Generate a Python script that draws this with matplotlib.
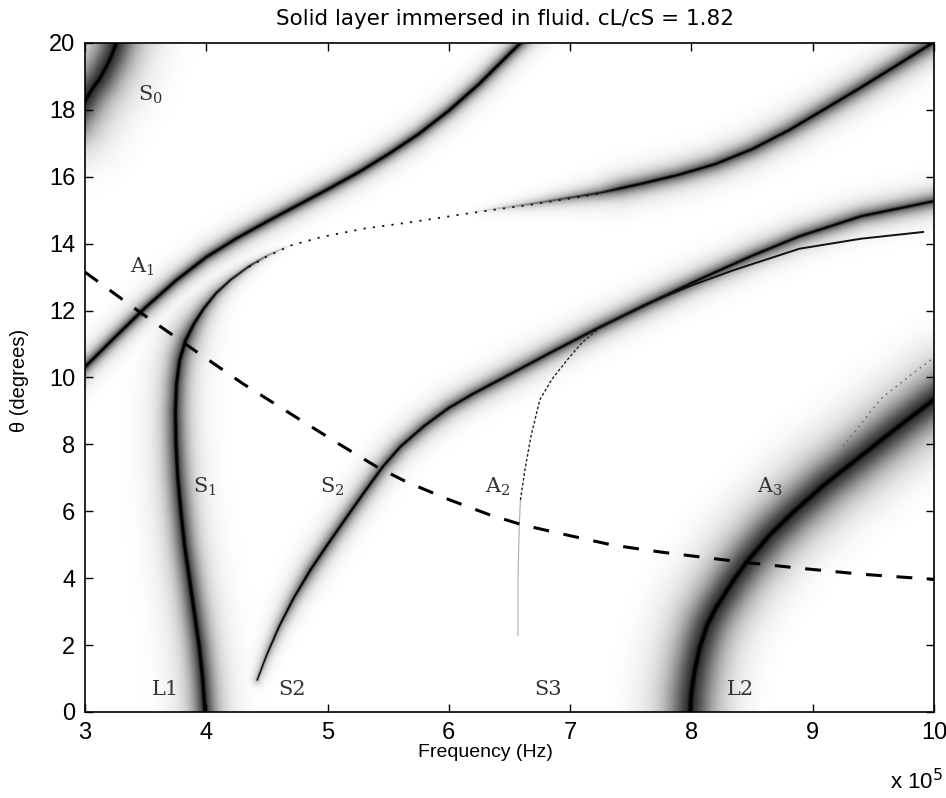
import numpy as np
import matplotlib.pyplot as plt

plt.rcParams['mathtext.fontset'] = 'dejavuserif'

# mode curves, frequency in units of 1e5 Hz, angle in degrees
# (first/last points of some curves run just past the axis limits)
s0_f = [2.9, 3.0, 3.06, 3.12, 3.18, 3.22, 3.26, 3.3]
s0_th = [17.7, 18.24, 18.6, 18.9, 19.3, 19.6, 20.0, 20.4]

a1_f = [2.9, 3.0, 3.25, 3.5, 3.75, 4.0, 4.25, 4.5, 4.77, 5.0, 5.25, 5.5, 5.75, 6.0, 6.25, 6.5, 6.6, 6.7]
a1_th = [9.93, 10.3, 11.2, 12.08, 12.88, 13.58, 14.14, 14.64, 15.16, 15.6, 16.1, 16.65, 17.25, 17.95, 18.75, 19.65, 20.0, 20.35]

s1_f = [4.01, 3.99, 3.97, 3.94, 3.9, 3.86, 3.82, 3.79, 3.765, 3.75, 3.745, 3.755, 3.78, 3.83,
        3.9, 3.98, 4.08, 4.2, 4.35, 4.5, 4.7, 4.95, 5.3, 5.7, 6.15, 6.7, 7.25, 7.6, 7.9,
        8.2, 8.5, 8.8, 9.1, 9.4, 9.7, 10.0, 10.1]
s1_th = [-0.5, 0.0, 1.0, 2.0, 3.0, 4.0, 5.0, 6.0, 7.0, 8.0, 9.0, 9.8, 10.5, 11.1,
         11.6, 12.05, 12.5, 12.9, 13.3, 13.62, 13.95, 14.2, 14.45, 14.65, 14.9, 15.18, 15.5, 15.78, 16.04,
         16.36, 16.8, 17.36, 18.0, 18.65, 19.32, 20.0, 20.22]

s2_f = [4.42, 4.5, 4.6, 4.72, 4.86, 5.0, 5.15, 5.3, 5.45, 5.6, 5.8, 6.0, 6.2, 6.42, 6.85,
        7.25, 7.65, 8.07, 8.5, 8.89, 9.4, 10.0, 10.1]
s2_th = [0.96, 1.72, 2.55, 3.4, 4.25, 5.0, 5.78, 6.55, 7.3, 7.92, 8.55, 9.08, 9.5, 9.92, 10.75,
         11.5, 12.2, 12.92, 13.62, 14.2, 14.8, 15.25, 15.3]

a2_f = [6.57, 6.57, 6.58, 6.59, 6.63, 6.68, 6.75, 6.85, 6.97, 7.1, 7.25, 7.6, 8.0, 8.34, 8.89, 9.4, 9.91]
a2_th = [2.3, 4.0, 5.5, 6.34, 7.3, 8.3, 9.33, 9.95, 10.5, 11.05, 11.5, 12.15, 12.75, 13.2, 13.85, 14.15, 14.35]

a3_f = [7.99, 7.99, 8.0, 8.03, 8.07, 8.13, 8.2, 8.26, 8.35, 8.46, 8.65, 8.85, 9.1, 9.4, 9.7, 10.0, 10.1]
a3_th = [-0.5, 0.0, 0.6, 1.3, 1.94, 2.6, 3.1, 3.44, 3.95, 4.5, 5.3, 6.0, 6.8, 7.65, 8.5, 9.33, 9.6]

a3b_f = [9.25, 9.36, 9.47, 9.58, 9.8, 10.0]
a3b_th = [7.95, 8.43, 8.95, 9.42, 10.05, 10.6]

# dashed coupling angle curve
cut_f = [3.0, 3.45, 3.84, 4.3, 4.75, 5.1, 5.41, 5.65, 6.0, 6.34, 6.61, 7.0, 7.35, 7.75, 8.15, 8.5, 8.89, 9.4, 9.94, 10.0]
cut_th = [13.15, 11.96, 10.97, 9.82, 8.79, 8.0, 7.32, 6.88, 6.35, 5.89, 5.59, 5.27, 4.99, 4.78, 4.6, 4.45, 4.3, 4.12, 3.98, 3.96]

labels = ['S$_0$', 'A$_1$', 'S$_1$', 'S$_2$', 'A$_2$', 'A$_3$', 'L1', 'S2', 'S3', 'L2']
label_f = [3.54, 3.47, 3.99, 5.04, 6.40, 8.65, 3.66, 4.71, 6.82, 8.40]
label_th = [18.45, 13.3, 6.73, 6.73, 6.73, 6.73, 0.66, 0.66, 0.66, 0.66]

F0, F1, T0, T1 = 3.0, 10.0, 0.0, 20.0
W, H = 849, 669  # raster size of the plotting area
dark = np.zeros((H, W))


def ridge(f, th, knots):
    """Add a dark resonance ridge along a polyline.
    knots: (vertex, core, core_hw, halo, halo_w, reach), interpolated along the curve."""
    x = (np.asarray(f) - F0) / (F1 - F0) * W
    y = (np.asarray(th) - T0) / (T1 - T0) * H
    k = np.array(knots, dtype=float)
    for i in range(len(x) - 1):
        seg = np.hypot(x[i + 1] - x[i], y[i + 1] - y[i])
        n = max(2, int(np.ceil(seg / 0.4)))
        for t in np.arange(n) / n:
            v = i + t
            core, chw, halo, hw, reach = [np.interp(v, k[:, 0], k[:, j]) for j in range(1, 6)]
            if core <= 0 and halo <= 0:
                continue
            px = x[i] + t * (x[i + 1] - x[i])
            py = y[i] + t * (y[i + 1] - y[i])
            r = int(reach) + 1
            x0, x1 = max(0, int(px) - r), min(W, int(px) + r + 1)
            y0, y1 = max(0, int(py) - r), min(H, int(py) + r + 1)
            if x0 >= x1 or y0 >= y1:
                continue
            gx = np.arange(x0, x1) + 0.5
            gy = np.arange(y0, y1)[:, None] + 0.5
            d = np.hypot(gx - px, gy - py)
            fade = np.clip(1 - (d / reach) ** 2, 0, 1) ** 2
            val = 1 - (1 - core / (1 + (d / chw) ** 4)) * (1 - halo * fade / (1 + (d / hw) ** 2))
            np.maximum(dark[y0:y1, x0:x1], val, out=dark[y0:y1, x0:x1])


ridge(s0_f, s0_th, [(0, 1, 1.7, 0.8, 18, 95), (7, 1, 1.7, 0.8, 18, 95)])
ridge(a1_f, a1_th, [(0, 1, 1.4, 0.65, 6, 42), (17, 1, 1.4, 0.65, 6, 42)])
ridge(s1_f, s1_th, [(0, 1, 1.9, 0.75, 12, 80), (13, 1, 1.7, 0.65, 10, 65),
                    (18, 0.9, 0.9, 0.25, 4, 30), (20, 0, 0.6, 0, 3, 10),
                    (24, 0, 0.6, 0, 3, 10), (26.5, 1, 1.3, 0.6, 8, 50),
                    (36, 1, 1.4, 0.65, 9, 55)])
ridge(s2_f, s2_th, [(0, 0.9, 0.8, 0.25, 4, 25), (4, 1, 1.2, 0.55, 7, 45),
                    (22, 1, 1.3, 0.6, 8, 50)])
ridge(a3_f, a3_th, [(0, 1, 2.2, 0.8, 22, 95), (16, 1, 2.2, 0.8, 22, 95)])

fig = plt.figure(figsize=(9.46, 7.98), dpi=100)
ax = fig.add_axes([85 / 946, 86 / 798, 849 / 946, 669 / 798])

ax.imshow(1 - dark, cmap='gray', vmin=0, vmax=1, origin='lower',
          extent=(F0, F1, T0, T1), aspect='auto', interpolation='bilinear', zorder=0)

# weak branches
ax.plot(s1_f[18:27], s1_th[18:27], color='#111111', lw=1.3, ls=(0, (1.2, 4)), zorder=2)
ax.plot(a2_f[:4], a2_th[:4], color='#aaaaaa', lw=0.8, zorder=2)
ax.plot(a2_f[3:11], a2_th[3:11], color='#222222', lw=1.0, ls=(0, (2, 1.5)), zorder=2)
ax.plot(a2_f[10:], a2_th[10:], color='#111111', lw=1.4, zorder=2)
ax.plot(a3b_f, a3b_th, color='#666666', lw=1.1, ls=(0, (1, 3)), zorder=2)

ax.plot(cut_f, cut_th, color='k', lw=2.2, dashes=(5.2, 4.8), zorder=3)

for lab, x, y in zip(labels, label_f, label_th):
    ax.text(x, y, lab, family='DejaVu Serif', fontsize=15, color='#333333',
            ha='center', va='center', zorder=4)

ax.set_xlim(F0, F1)
ax.set_ylim(T0, T1)
ax.set_xticks(np.arange(3, 11, 1))
ax.set_yticks(np.arange(0, 21, 2))
ax.tick_params(direction='in', length=6, width=1, top=True, right=True,
               labelsize=17, pad=7)
for lab in ax.get_xticklabels() + ax.get_yticklabels():
    lab.set_family('Liberation Sans')
for s in ax.spines.values():
    s.set_linewidth(1.2)

ax.set_xlabel('Frequency (Hz)', family='Liberation Sans', fontsize=14)
ax.xaxis.set_label_coords(0.472, -0.048)
ax.set_ylabel('θ (degrees)', family='Liberation Sans', fontsize=14.5)
ax.yaxis.set_label_coords(-0.066, 0.496)
ax.set_title('Solid layer immersed in fluid. cL/cS = 1.82', family='DejaVu Sans',
             fontsize=15.5, x=0.495, pad=13)
fig.text(0.997, 0.005, r'x 10$^{\mathsf{5}}$', family='Liberation Sans', fontsize=16,
         ha='right', va='bottom')

fig.savefig('out.png', dpi=100)
